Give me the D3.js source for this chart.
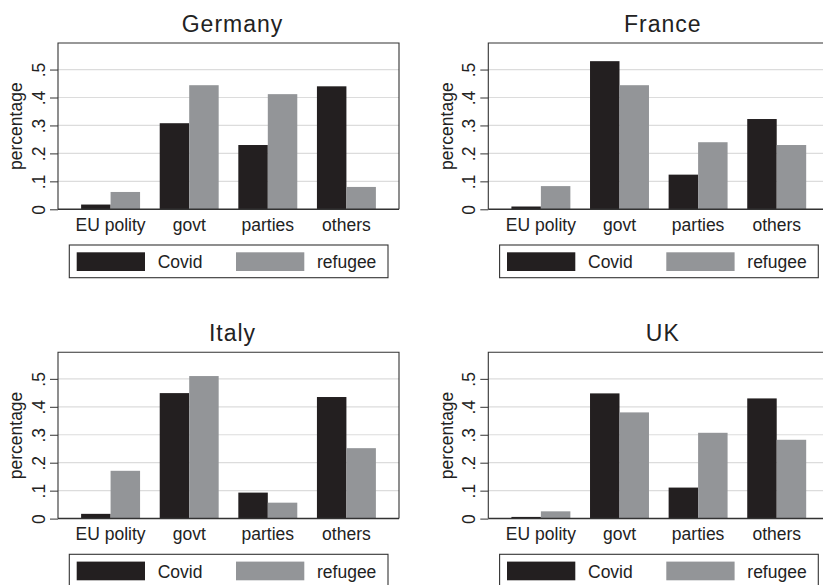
<!DOCTYPE html>
<html>
<head>
<meta charset="utf-8">
<script src="https://cdn.jsdelivr.net/npm/d3@7"></script>
<style>
    body { margin: 0; background: #fff; }
    svg { display: block; font-family: "Liberation Sans", Arial, Helvetica, sans-serif; }
</style>
</head>
<body>
<svg id="chart" width="823" height="585"></svg>
<script>
// categories / series
const categories = ["EU polity", "govt", "parties", "others"]
const seriesNames = ["Covid", "refugee"]
const countries = ["Germany", "France", "Italy", "UK"]

// values (share of mentions)
const germanyCovid = [0.017, 0.308, 0.230, 0.440]
const germanyRefugee = [0.062, 0.444, 0.412, 0.080]
const franceCovid = [0.010, 0.530, 0.124, 0.323]
const franceRefugee = [0.083, 0.444, 0.240, 0.230]
const italyCovid = [0.017, 0.449, 0.093, 0.435]
const italyRefugee = [0.171, 0.510, 0.057, 0.252]
const ukCovid = [0.006, 0.448, 0.111, 0.430]
const ukRefugee = [0.026, 0.380, 0.307, 0.282]

const yTicks = [0, 0.1, 0.2, 0.3, 0.4, 0.5]
const yTickLabels = ["0", ".1", ".2", ".3", ".4", ".5"]
const yLabel = "percentage"

const panels = [
    {name: countries[0], covid: germanyCovid, refugee: germanyRefugee},
    {name: countries[1], covid: franceCovid, refugee: franceRefugee},
    {name: countries[2], covid: italyCovid, refugee: italyRefugee},
    {name: countries[3], covid: ukCovid, refugee: ukRefugee}
]

const colors = {Covid: "#231f20", refugee: "#939598"}
const ink = "#222"

// panel geometry (per panel local coords)
const colStep = 430.3, rowStep = 309.3
const plot = {left: 58, right: 399, top: 43, bottom: 209.3}

const svg = d3.select("#chart")

const y = d3.scaleLinear()
    .domain([0, 0.595])
    .range([plot.bottom, plot.top])

const x = d3.scaleBand()
    .domain(categories)
    .range([plot.left, plot.right])
    .paddingInner(0.25)
    .paddingOuter(0.294)

const xSub = d3.scaleBand()
    .domain(seriesNames)
    .range([0, x.bandwidth()])
    .padding(0)

panels.forEach((p, i) => {
    let col = i % 2, row = Math.floor(i / 2)
    let g = svg.append("g")
        .attr("transform", `translate(${col * colStep},${row * rowStep})`)

    // title
    g.append("text")
        .attr("x", 232.5).attr("y", 31.7)
        .attr("text-anchor", "middle")
        .attr("font-size", 23).attr("letter-spacing", 1)
        .attr("fill", ink)
        .text(p.name)

    // grid lines
    g.append("g")
        .selectAll("line")
        .data(yTicks.filter(d => d > 0))
        .enter().append("line")
        .attr("x1", plot.left).attr("x2", plot.right)
        .attr("y1", d => y(d)).attr("y2", d => y(d))
        .attr("stroke", "#dcdcdc").attr("stroke-width", 1.2)

    // bars
    let rows = categories.map((c, k) => ({cat: c, Covid: p.covid[k], refugee: p.refugee[k]}))
    let grp = g.append("g").selectAll("g").data(rows).enter().append("g")
        .attr("transform", d => `translate(${x(d.cat)},0)`)
    grp.selectAll("rect")
        .data(d => seriesNames.map(s => ({s: s, v: d[s]})))
        .enter().append("rect")
        .attr("x", d => xSub(d.s))
        .attr("width", xSub.bandwidth())
        .attr("y", d => y(d.v))
        .attr("height", d => y(0) - y(d.v))
        .attr("fill", d => colors[d.s])

    // frame
    g.append("path")
        .attr("d", `M${plot.left},${plot.bottom}V${plot.top}H${plot.right}V${plot.bottom}`)
        .attr("fill", "none").attr("stroke", "#333").attr("stroke-width", 1.1)
    g.append("line")
        .attr("x1", plot.left).attr("x2", plot.right)
        .attr("y1", plot.bottom).attr("y2", plot.bottom)
        .attr("stroke", "#333").attr("stroke-width", 1.5)

    // y axis
    let yAxis = g.append("g")
        .attr("transform", `translate(${plot.left},0)`)
        .call(d3.axisLeft(y).tickValues(yTicks).tickFormat((d, k) => yTickLabels[k]).tickSize(8))
    yAxis.select(".domain").remove()
    yAxis.selectAll(".tick line").attr("stroke", "#333")
    yAxis.selectAll(".tick text")
        .attr("x", null).attr("dy", null)
        .attr("transform", "translate(-13.5,0) rotate(-90)")
        .attr("text-anchor", "middle")
        .attr("font-size", 17.5)
        .attr("font-family", null)
        .attr("fill", ink)

    g.append("text")
        .attr("transform", `translate(22.3,${(plot.top + plot.bottom) / 2}) rotate(-90)`)
        .attr("text-anchor", "middle")
        .attr("font-size", 17.5)
        .attr("fill", ink)
        .text(yLabel)

    // x axis labels
    let xAxis = g.append("g")
        .attr("transform", `translate(0,${plot.bottom})`)
        .call(d3.axisBottom(x).tickSize(0))
    xAxis.select(".domain").remove()
    xAxis.selectAll(".tick text")
        .attr("y", 21.7).attr("dy", null)
        .attr("font-size", 17.5)
        .attr("font-family", null)
        .attr("fill", ink)

    // legend
    let lg = g.append("g")
    lg.append("rect")
        .attr("x", 69.3).attr("y", 245)
        .attr("width", 318.7).attr("height", 32.7)
        .attr("fill", "none").attr("stroke", "#333").attr("stroke-width", 1.1)
    let keyX = [76.7, 236]
    seriesNames.forEach((s, k) => {
        lg.append("rect")
            .attr("x", keyX[k]).attr("y", 252.3)
            .attr("width", 68.3).attr("height", 18.7)
            .attr("fill", colors[s])
        lg.append("text")
            .attr("x", keyX[k] + 81).attr("y", 268.3)
            .attr("font-size", 17.5)
            .attr("fill", ink)
            .text(s)
    })
})
</script>
</body>
</html>
